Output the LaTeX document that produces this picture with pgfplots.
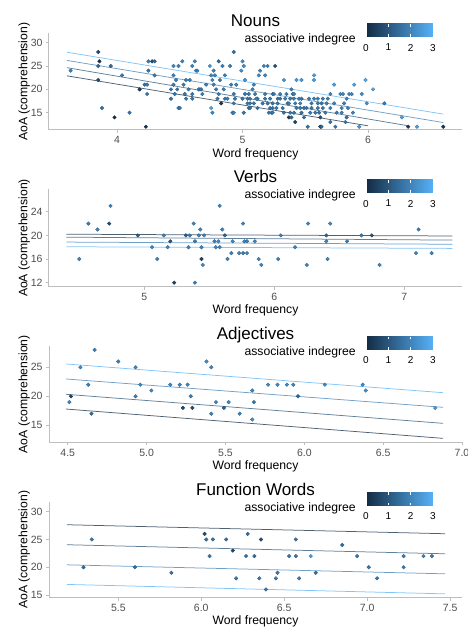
\documentclass[border=0pt]{standalone}
\usepackage{pgfplots}
\pgfplotsset{compat=1.18}
\usepackage{pgfplotstable}
\usepackage{fontspec}
\setmainfont{Liberation Sans}
\usetikzlibrary{calc}
\definecolor{axgray}{RGB}{190,190,190}
\definecolor{tickgray}{RGB}{77,77,77}
\definecolor{lc0}{RGB}{19,43,67}
\definecolor{lc1}{RGB}{43,84,119}
\definecolor{lc2}{RGB}{63,127,179}
\definecolor{lc3}{RGB}{86,177,247}

\pgfplotstableread{
x y c
3.63 24 1.9
3.85 28 0.8
3.86 26 0.3
3.85 25 1.4
3.85 22 0.8
3.88 16 1.6
3.95 25 1.4
3.98 14 0.2
4.04 23 1.7
4.10 15 1.7
4.18 20 0.3
4.22 21 1.6
4.24 21 1.8
4.23 12 0.2
4.24 19 1.7
4.25 26 1.9
4.28 26 0.8
4.30 26 1.4
4.25 24 1.7
4.30 23 1.8
4.43 20 1.7
4.43 18 1.6
4.45 25 2.0
4.45 23 1.9
4.45 21 1.8
4.47 22 1.9
4.48 20 1.7
4.49 25 1.9
4.49 16 1.8
4.52 26 2.0
4.53 21 1.8
4.55 18 1.7
4.55 22 1.9
4.57 20 1.8
4.58 22 1.9
4.60 19 1.7
4.60 25 2.0
4.63 24 1.9
4.65 20 1.8
4.62 26 2.0
4.81 26 1.4
5.00 26 2.2
4.74 25 2.4
4.84 25 1.9
4.90 25 2.0
5.01 25 2.2
4.64 24 1.9
4.77 24 2.0
4.99 24 2.2
4.93 28 1.6
4.75 23 2.1
4.78 23 2.0
4.86 23 1.9
4.76 22 2.0
4.82 22 1.8
5.02 22 2.3
4.71 21 1.9
4.77 21 1.9
4.91 21 1.8
4.95 21 1.9
4.66 20 1.8
4.67 20 1.7
4.79 20 1.8
4.85 20 1.8
5.08 20 1.9
4.46 19 1.7
4.54 19 1.7
4.68 19 1.8
4.81 19 1.8
4.93 19 1.8
5.02 19 1.7
5.05 19 1.7
4.60 18 1.7
4.80 18 1.8
4.86 18 1.7
4.88 18 1.8
4.94 18 1.7
5.04 18 1.7
5.12 18 1.7
4.83 17 0.3
4.93 17 1.7
5.06 17 1.7
5.16 17 1.7
4.50 16 1.8
4.75 16 2.7
5.05 16 1.9
5.12 16 1.7
4.76 15 2.0
4.92 15 1.9
4.93 15 1.9
5.01 15 1.7
5.17 25 2.0
5.20 25 1.8
5.26 25 0.8
5.14 24 2.0
5.13 23 2.1
5.18 23 2.0
5.33 22 2.4
5.43 22 2.5
5.47 22 2.4
5.09 21 1.9
5.39 20 1.9
5.10 19 1.8
5.18 19 1.8
5.24 19 1.7
5.25 19 1.7
5.30 19 1.8
5.35 19 1.8
5.40 19 1.7
5.41 19 1.9
5.00 18 1.7
5.06 18 1.7
5.11 18 1.8
5.18 18 1.7
5.22 18 1.7
5.28 18 1.7
5.30 18 1.6
5.34 18 1.8
5.38 18 1.7
5.41 18 1.8
5.45 18 1.9
5.47 18 1.7
5.04 17 1.7
5.09 17 1.7
5.20 17 1.7
5.24 17 1.6
5.28 17 1.7
5.36 17 1.7
5.37 17 1.8
5.42 17 1.8
5.46 17 1.9
5.06 16 1.6
5.22 16 1.7
5.24 16 1.6
5.27 16 1.7
5.32 16 1.6
5.43 16 1.7
5.46 16 1.8
5.49 16 1.7
5.21 15 1.7
5.23 15 1.8
5.24 15 1.7
5.33 15 1.6
5.38 15 1.7
5.41 15 1.7
5.47 15 1.6
5.37 14 0.3
5.39 14 1.4
5.49 14 1.5
5.42 13 0.6
5.52 12 1.7
5.57 23 2.6
5.57 22 2.6
5.73 21 2.6
5.89 21 2.7
5.98 22 2.7
6.04 20 2.7
5.70 19 1.9
5.78 19 2.0
5.80 19 2.0
5.85 19 2.1
5.87 19 2.0
5.95 19 2.2
5.53 18 1.8
5.57 18 1.8
5.60 18 1.9
5.64 18 1.8
5.68 18 1.9
5.83 18 2.0
5.55 17 1.7
5.60 17 1.8
5.63 17 1.7
5.67 17 1.9
5.73 17 1.9
5.81 17 1.9
5.99 17 2.2
6.13 17 1.8
5.51 16 1.7
5.55 16 1.7
5.60 16 1.7
5.64 16 1.8
5.70 16 1.9
5.79 16 1.9
5.84 16 1.9
5.54 15 1.8
5.58 15 1.7
5.61 15 1.6
5.66 15 1.8
5.75 15 1.8
5.79 15 1.9
5.88 15 1.9
5.62 14 0.8
5.83 14 1.6
6.27 14 2.6
5.70 13 1.6
5.82 13 1.7
5.62 12 0.4
5.63 12 1.4
5.74 12 1.7
5.93 12 2.4
6.32 12 0.3
6.39 12 2.6
6.60 12 0.3
}\nouns

\pgfplotstableread{
x y c
4.50 16 2.0
4.57 22 1.9
4.64 21 2.0
4.73 22 0.8
4.74 25 1.9
4.95 20 1.2
5.06 18 2.0
5.10 16 2.0
5.15 20 1.9
5.18 18 2.0
5.20 19 1.0
5.23 12 0.6
5.32 20 1.2
5.34 18 2.0
5.35 20 1.8
5.38 22 2.0
5.39 12 1.9
5.39 19 1.8
5.42 20 1.9
5.43 21 2.0
5.44 18 2.0
5.44 16 0.5
5.45 15 2.1
5.46 20 2.0
5.54 19 2.0
5.55 18 2.0
5.57 19 2.1
5.58 25 2.1
5.58 18 2.0
5.60 21 2.0
5.62 20 1.2
5.64 16 2.0
5.67 17 1.9
5.68 19 2.0
5.73 17 2.0
5.76 17 1.9
5.76 22 1.9
5.77 19 2.0
5.79 19 1.9
5.79 17 2.0
5.85 19 2.0
5.88 16 2.0
5.90 15 2.0
6.03 16 2.0
6.05 20 1.9
6.16 18 1.9
6.25 15 2.0
6.26 22 2.0
6.40 20 1.2
6.40 19 2.0
6.41 16 2.0
6.43 22 2.0
6.56 19 1.9
6.67 20 1.8
6.75 20 0.9
6.81 15 2.0
7.09 17 2.0
7.11 21 1.9
7.21 17 2.0
}\verbs

\pgfplotstableread{
x y c
4.51 19 2.0
4.52 20 0.6
4.58 25 2.1
4.63 22 1.9
4.65 17 1.4
4.67 28 1.9
4.82 26 1.9
4.93 20 1.8
4.93 25 2.0
4.96 22 2.0
5.03 21 2.0
5.15 22 2.1
5.21 22 2.0
5.23 18 0.7
5.26 22 2.0
5.28 20 1.9
5.29 18 0.7
5.38 26 2.2
5.41 17 2.0
5.41 25 2.1
5.44 19 2.0
5.49 18 1.2
5.52 19 2.0
5.59 17 1.9
5.67 21 2.0
5.67 16 2.3
5.68 19 1.8
5.77 22 2.1
5.83 22 2.1
5.89 22 2.1
5.93 22 2.1
5.96 20 1.4
6.13 22 2.1
6.37 22 2.1
6.39 21 2.2
6.83 18 2.5
}\adjs

\pgfplotstableread{
x y c
5.29 20 1.5
5.34 25 1.7
5.60 20 1.5
5.82 19 1.6
6.02 26 0.7
6.03 25 1.6
6.05 22 1.7
6.07 25 1.6
6.15 25 1.5
6.19 23 0.7
6.21 18 1.7
6.27 22 1.7
6.28 26 1.5
6.32 22 1.6
6.35 18 1.7
6.36 25 0.8
6.39 16 1.7
6.45 18 1.8
6.46 19 1.7
6.53 22 1.8
6.57 25 1.6
6.57 22 1.7
6.59 18 1.8
6.66 22 2.5
6.69 19 1.6
6.85 24 1.5
6.94 22 1.8
7.01 20 1.7
7.06 18 1.7
7.22 20 1.7
7.22 22 1.8
7.34 22 1.9
7.39 22 1.8
}\funcs

\tikzset{legtitle/.style={anchor=base east, font=\fontsize{12.2}{14}\selectfont, inner sep=0pt}}
\pgfplotsset{
  panel/.style={
    scale only axis, width=413pt, anchor=south west,
    axis lines=left, axis line style={-, draw=axgray, line width=1pt},
    tick style={draw=axgray, line width=0.8pt}, tick align=outside, major tick length=3pt,
    ticklabel style={font=\fontsize{10.5}{12}\selectfont, text=tickgray},
    xlabel={Word frequency}, ylabel={AoA (comprehension)},
    label style={font=\fontsize{12.2}{14}\selectfont},
    xlabel style={at={(axis description cs:0.5,0)}, anchor=center, yshift=-24pt},
    ylabel style={at={(axis description cs:-0.06,0.5)}, anchor=center},
    title style={at={(0.5,1)}, anchor=base, yshift=0.6pt, font=\fontsize{17}{20}\selectfont},
    colormap={gg}{rgb255(0)=(19,43,67) rgb255(1)=(86,177,247)},
    point meta min=0, point meta max=3,
    colorbar horizontal,
    colorbar shift/.style={},
    colorbar style={
      at={($(parent axis.north east)+(-29pt,-3.7pt)$)}, anchor=south east,
      scale only axis, width=67pt, height=13pt,
      xtick={0,1,2,3}, xticklabels={0,1,2,3}, ytick=\empty,
      xticklabel pos=lower, xtick pos=both,
      axis line style={draw=none}, axis on top,
      tick style={draw=white, line width=0.6pt}, major tick length=2.6pt, tick align=inside,
      xticklabel style={font=\fontsize{10}{12}\selectfont, text=black, yshift=-3.5pt},
      title={}, xlabel={}, ylabel={},
    },
    clip=false,
  },
  fit/.style={no marks, line width=0.75pt, opacity=0.75},
  pts/.style={scatter, only marks, mark=*, mark size=1.8pt, scatter src=explicit},
}

\begin{document}
\begin{tikzpicture}
\useasboundingbox (0,0) rectangle (468pt,627pt);

% Nouns
\begin{axis}[panel, at={(49pt,497pt)}, height=96.7pt,
  xmin=3.458, xmax=6.749, ymin=11.3, ymax=32.0,
  xtick={4,5,6}, xticklabels={4,5,6},
  ytick={15,20,25,30}, yticklabels={15,20,25,30},
  title={Nouns}]
\addplot[pts] table[x=x,y=y,meta=c]{\nouns};
\addplot[fit, lc0] coordinates {(3.6,22.9) (6.0,12.2)};
\addplot[fit, lc1] coordinates {(3.6,24.65) (6.32,12.2)};
\addplot[fit, lc2] coordinates {(3.6,26.2) (6.6,12.9)};
\addplot[fit, lc3] coordinates {(3.6,27.95) (6.6,14.7)};
\node[legtitle] at (rel axis cs:1,1) [xshift=-106pt, yshift=-9.7pt] {associative indegree};
\end{axis}

% Verbs
\begin{axis}[panel, at={(49pt,340.3pt)}, height=97.4pt,
  xmin=4.267, xmax=7.444, ymin=11.32, ymax=27.8,
  xtick={5,6,7}, xticklabels={5,6,7},
  ytick={12,16,20,24}, yticklabels={12,16,20,24},
  title={Verbs}]
\addplot[pts] table[x=x,y=y,meta=c]{\verbs};
\addplot[fit, lc0] coordinates {(4.4,20.2) (7.37,19.9)};
\addplot[fit, lc1] coordinates {(4.4,19.7) (7.37,19.2)};
\addplot[fit, lc2] coordinates {(4.4,18.87) (7.37,18.5)};
\addplot[fit, lc3] coordinates {(4.4,18.08) (7.37,17.8)};
\node[legtitle] at (rel axis cs:1,1) [xshift=-106pt, yshift=-9.7pt] {associative indegree};
\end{axis}

% Adjectives
\begin{axis}[panel, at={(49pt,184.7pt)}, height=96.3pt,
  xmin=4.381, xmax=7.0, ymin=12.07, ymax=28.67,
  xtick={4.5,5,5.5,6,6.5,7}, xticklabels={4.5,5.0,5.5,6.0,6.5,7.0},
  ytick={15,20,25}, yticklabels={15,20,25},
  title={Adjectives}]
\addplot[pts] table[x=x,y=y,meta=c]{\adjs};
\addplot[fit, lc0] coordinates {(4.49,17.8) (6.88,12.75)};
\addplot[fit, lc1] coordinates {(4.49,20.34) (6.88,15.34)};
\addplot[fit, lc2] coordinates {(4.49,22.98) (6.88,18.1)};
\addplot[fit, lc3] coordinates {(4.49,25.57) (6.88,20.62)};
\node[legtitle] at (rel axis cs:1,1) [xshift=-106pt, yshift=-9.7pt] {associative indegree};
\end{axis}

% Function Words
\begin{axis}[panel, at={(49pt,29.3pt)}, height=96pt,
  xmin=5.082, xmax=7.572, ymin=14.51, ymax=31.8,
  xtick={5.5,6,6.5,7,7.5}, xticklabels={5.5,6.0,6.5,7.0,7.5},
  ytick={15,20,25,30}, yticklabels={15,20,25,30},
  title={Function Words}]
\addplot[pts] table[x=x,y=y,meta=c]{\funcs};
\addplot[fit, lc0] coordinates {(5.19,27.65) (7.47,26.03)};
\addplot[fit, lc1] coordinates {(5.19,24.05) (7.47,22.42)};
\addplot[fit, lc2] coordinates {(5.19,20.43) (7.47,18.81)};
\addplot[fit, lc3] coordinates {(5.19,16.9) (7.47,15.2)};
\node[legtitle] at (rel axis cs:1,1) [xshift=-106pt, yshift=-9.7pt] {associative indegree};
\end{axis}
\end{tikzpicture}
\end{document}
